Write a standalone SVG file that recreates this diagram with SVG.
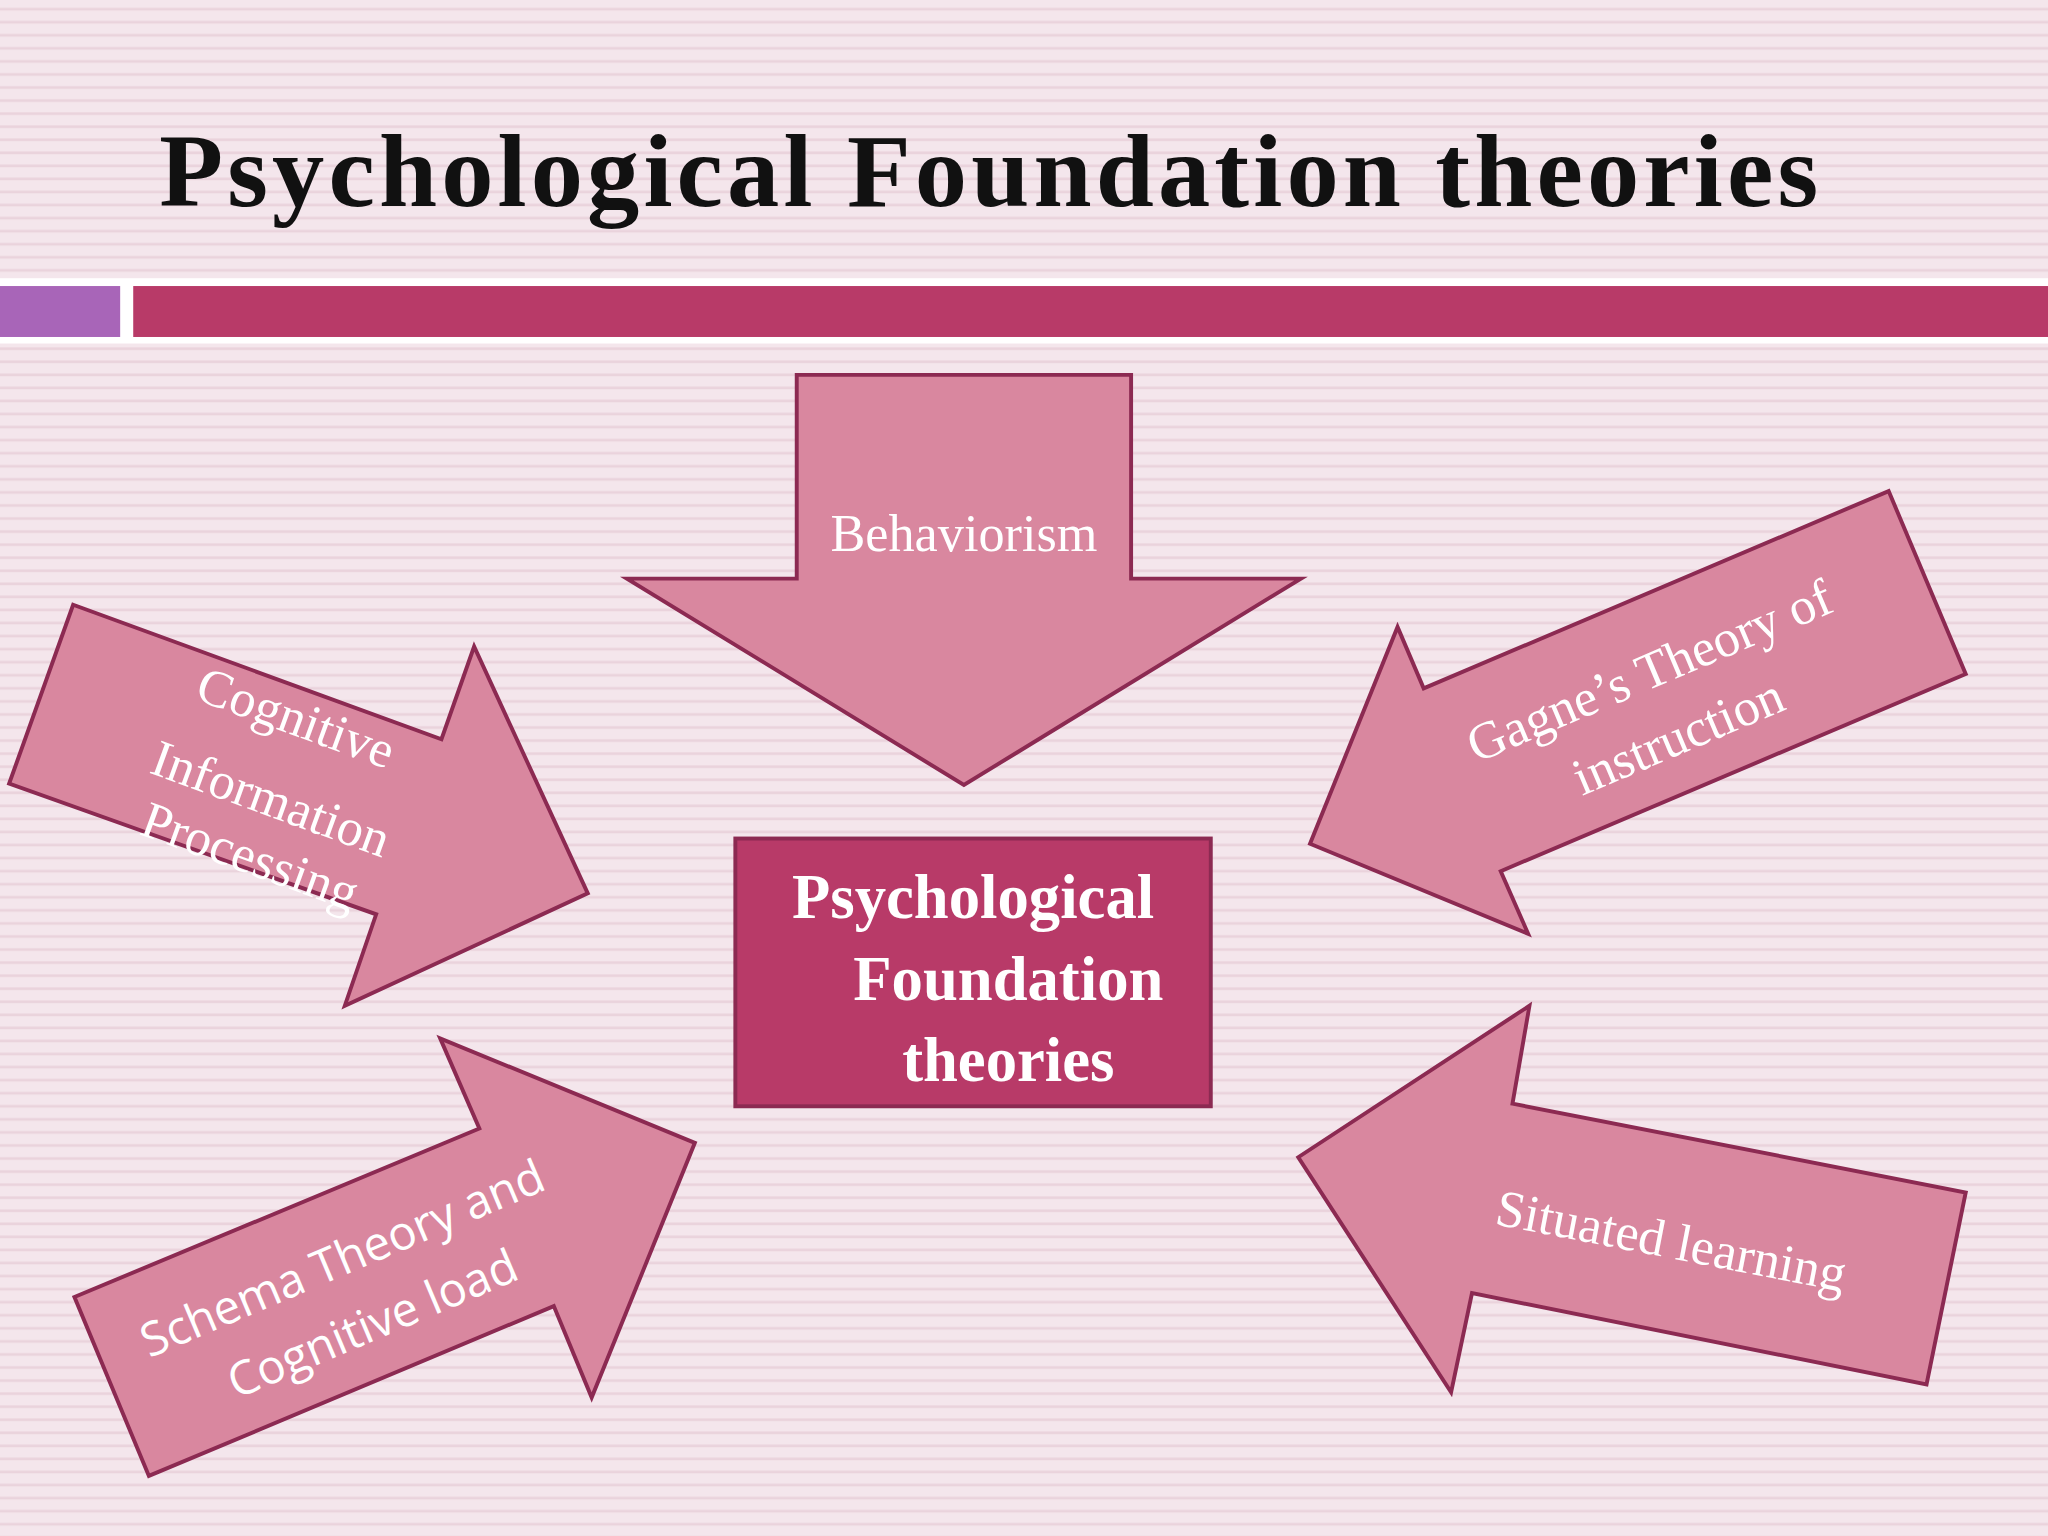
<svg xmlns="http://www.w3.org/2000/svg" width="2048" height="1536" viewBox="0 0 2048 1536">
<defs>
<pattern id="stripes" width="10" height="10" patternUnits="userSpaceOnUse">
<rect width="10" height="10" fill="#f4e6ec"/>
<rect y="6" width="10" height="2" fill="#ead3dc"/>
</pattern>
<style>
.arr{fill:#d9879f;stroke:#8c2a52;stroke-width:3;stroke-linejoin:miter}
.serif{font-family:"Liberation Serif","Times New Roman",serif;fill:#fff;text-anchor:middle}
.sans{font-family:"Open Sans","Lato",sans-serif;fill:#fff;text-anchor:middle}
</style>
</defs>
<g transform="scale(1.30612)">
<rect width="1568" height="1176" fill="url(#stripes)"/>
<text x="122" y="158" font-family="Liberation Serif,serif" font-weight="bold" font-size="80" textLength="1270" fill="#111">Psychological Foundation theories</text>
<rect x="0" y="213" width="1568" height="50" fill="#fff"/>
<rect x="0" y="219" width="92" height="39" fill="#a865b8"/>
<rect x="102" y="219" width="1466" height="39" fill="#b83a68"/>
<g id="behaviorism"><polygon class="arr" points="610,287 866,287 866,443 996,443 738,601 480,443 610,443"/>
<text class="serif" x="738" y="422" font-size="40">Behaviorism</text></g>
<g id="cognitive"><polygon class="arr" points="56,463 338,566 363,495 450,684 264,770 288,700 7,600"/>
<text class="serif" font-size="40" transform="translate(222,562) rotate(20)">Cognitive</text>
<text class="serif" font-size="40" transform="translate(203,624) rotate(20)">Information</text>
<text class="serif" font-size="40" transform="translate(187,668) rotate(20)">Processing</text></g>
<g id="schema"><polygon class="arr" points="57,993 367,864 337,795 532,875 453,1070 424,1000 114,1130"/>
<text class="sans" font-size="36" transform="translate(267,975) rotate(-23)">Schema Theory and</text>
<text class="sans" font-size="36" transform="translate(290,1025) rotate(-23)">Cognitive load</text></g>
<g id="gagne"><polygon class="arr" points="1090,527 1446,376 1505,516 1149,667 1170,715 1003,646 1070,480"/>
<text class="serif" font-size="40" transform="translate(1268,526) rotate(-23)">Gagne’s Theory of</text>
<text class="serif" font-size="40" transform="translate(1290,576) rotate(-23)">instruction</text></g>
<g id="situated"><polygon class="arr" points="1158,845 1505,913 1475,1060 1127,990 1111,1066 994,886 1171,770"/>
<text class="serif" font-size="40" transform="translate(1277,963) rotate(11)">Situated learning</text></g>
<g id="center"><rect x="563" y="642" width="364" height="205" fill="#b83a68" stroke="#8c2a52" stroke-width="3"/>
<text class="serif" font-weight="bold" font-size="48" x="745" y="703">Psychological</text>
<text class="serif" font-weight="bold" font-size="48" x="772" y="766">Foundation</text>
<text class="serif" font-weight="bold" font-size="48" x="772" y="828">theories</text></g>
<g id="connectors"/>
</g>
</svg>
